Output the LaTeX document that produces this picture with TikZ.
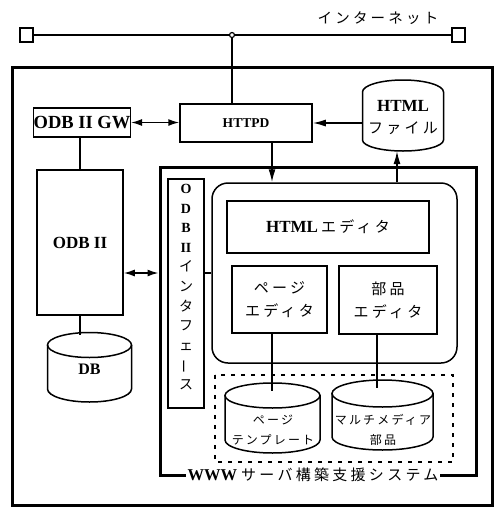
\documentclass[tikz,border=0pt]{standalone}
\usepackage{fontspec}
\setmainfont{Liberation Serif}
\newfontfamily\jpx[LetterSpace=22]{Noto Sans CJK JP}
\newfontfamily\jpsx[LetterSpace=18]{Noto Sans CJK JP}
\newfontfamily\jpvx{Noto Sans CJK JP}
\newcommand{\jp}{\mdseries\jpx}
\newcommand{\jps}{\mdseries\jpsx}
\newcommand{\jpv}{\mdseries\jpvx}
\usetikzlibrary{arrows.meta}
\begin{document}
\begin{tikzpicture}[x=1pt,y=-1pt,line width=1.5pt,
  box/.style={draw,line width=1.5pt,inner sep=0pt,rectangle},
  heavy/.style={draw,line width=3pt,inner sep=0pt,rectangle},
  lat/.style={font=\bfseries\fontsize{17pt}{23pt}\selectfont,align=center},
  arr/.style={-{Latex[length=13pt,width=7pt]}},
  darr/.style={{Latex[length=11pt,width=7pt]}-{Latex[length=11pt,width=7pt]}},
  cyl/.style={draw,line width=1.5pt,fill=white},
]
\useasboundingbox (0,0) rectangle (494,507);

% internet
\node[box,minimum width=13pt,minimum height=14pt] (sqL) at (26.5,35) {};
\node[box,minimum width=13pt,minimum height=14pt] (sqR) at (458.5,35) {};
\node[circle,draw,fill=white,line width=1.2pt,minimum size=5pt,inner sep=0pt] (dot) at (232,35) {};
\node[font=\jp\fontsize{14.5pt}{17pt}\selectfont] (inet) at (378,18) {インターネット};
\draw (sqL.east) -- (dot.west);
\draw (dot.east) -- (sqR.west);

% outer frame
\node[heavy,minimum width=480pt,minimum height=438pt] (outer) at (252,286) {};

% top row
\node[box,minimum width=96pt,minimum height=29pt,font=\bfseries\fontsize{18.5pt}{20pt}\selectfont] (gw) at (82,122.5) {ODB II GW};
\node[box,minimum width=132pt,minimum height=38pt,font=\bfseries\fontsize{13.5pt}{15pt}\selectfont] (httpd) at (246,123) {HTTPD};
\draw (dot.south) -- (dot.south |- httpd.north);
\draw[darr] (gw.east) -- (gw.east -| httpd.west);

% HTML file cylinder
\draw[cyl] (362.5,92) arc[start angle=180,end angle=0,x radius=40.5pt,y radius=12pt]
  -- (443.5,140) arc[start angle=360,end angle=180,x radius=40.5pt,y radius=11pt] -- cycle;
\node[lat] (hfile) at (403,118) {HTML\\[-1pt]{\jp\fontsize{15pt}{17pt}\selectfont ファイル}};
\coordinate (hfL) at (362.5,123);
\coordinate (hfB) at (397,151);
\draw[arr] (hfL) -- (hfL -| httpd.east);

% ODB II and DB
\node[box,minimum width=86pt,minimum height=145pt,lat] (odb) at (80,242.5) {ODB II};
\draw (odb.north |- gw.south) -- (odb.north);
\draw[cyl] (89.5,345) ellipse[x radius=42pt,y radius=12.5pt];
\draw[line width=1.5pt] (47.5,345) -- (47.5,389) arc[start angle=180,end angle=360,x radius=42pt,y radius=13pt] -- (131.5,345);
\node[font=\bfseries\fontsize{16pt}{18pt}\selectfont] (db) at (89.5,369) {DB};
\coordinate (dbTop) at (80,335);
\draw (odb.south) -- (odb.south |- dbTop);

% WWW system frame
\node[heavy,minimum width=316pt,minimum height=308pt] (www) at (318,321) {};
\node[fill=white,inner sep=2pt,font=\fontsize{16.5pt}{19pt}\selectfont] (wwwlbl) at (313,475)
  {\bfseries WWW\hspace{4pt}{\jp\fontsize{15pt}{17pt}\selectfont サーバ構築支援システム}};

% interface
\node[box,minimum width=36pt,minimum height=229pt] (ifc) at (186,293.5) {};
\node[align=center,inner sep=0pt,font=\fontsize{14pt}{19.6pt}\selectfont] (ifctext) at (186,287)
  {{\bfseries O}\\{\bfseries D}\\{\bfseries B}\\{\bfseries II}\\{\jpv イ}\\{\jpv ン}\\{\jpv タ}\\{\jpv フ}\\{\jpv ェ}\\\rotatebox[origin=c]{90}{\jpv ー}\\{\jpv ス}};

% editors
\node[draw,line width=1.5pt,rounded corners=16pt,minimum width=245pt,minimum height=180pt,inner sep=0pt] (rb) at (334.5,273) {};
\node[box,minimum width=202pt,minimum height=52pt,font=\bfseries\fontsize{17pt}{20pt}\selectfont] (hed) at (328,227)
  {HTML\hspace{3pt}{\jp\fontsize{15pt}{17pt}\selectfont エディタ}};
\node[box,minimum width=95pt,minimum height=67pt,align=center,font=\jp\fontsize{15pt}{23pt}\selectfont] (pe) at (279.5,299.5) {ページ\\エディタ};
\node[box,minimum width=98pt,minimum height=68pt,align=center,font=\jp\fontsize{15pt}{23pt}\selectfont] (me) at (388,300) {部品\\エディタ};

\draw (ifc.east |- rb.west) -- (rb.west);
\draw[darr] (odb.east |- rb.west) -- (www.west |- rb.west);

\coordinate (ax) at (272,0);
\draw[arr] (httpd.south -| ax) -- (rb.north -| ax);
\draw[arr] (rb.north -| hfB) -- (hfB);

% dashed storage area
\draw[line width=2pt,dash pattern=on 4pt off 6pt] (215,375) rectangle (453,462);

% page template cylinder
\draw[cyl] (225,395.5) -- (225,440) arc[start angle=180,end angle=360,x radius=47.5pt,y radius=13pt] -- (320,395.5) -- cycle;
\draw[cyl] (272.5,395.5) ellipse[x radius=47.5pt,y radius=12.5pt];
\node[align=center,font=\jps\fontsize{12pt}{20pt}\selectfont] (pt) at (273,430) {ページ\\テンプレート};
\coordinate (ptTop) at (272,391);

% multimedia cylinder
\draw[cyl] (332,393.5) -- (332,437) arc[start angle=180,end angle=360,x radius=50.5pt,y radius=13pt] -- (433,393.5) -- cycle;
\draw[cyl] (382.5,393.5) ellipse[x radius=50.5pt,y radius=13.5pt];
\node[align=center,font=\jps\fontsize{12pt}{20pt}\selectfont] (mm) at (383,430) {マルチメディア\\部品};
\coordinate (mmTop) at (377,388);

\draw (pe.south -| ax) -- (ptTop);
\draw (me.south -| mmTop) -- (mmTop);
\end{tikzpicture}
\end{document}
